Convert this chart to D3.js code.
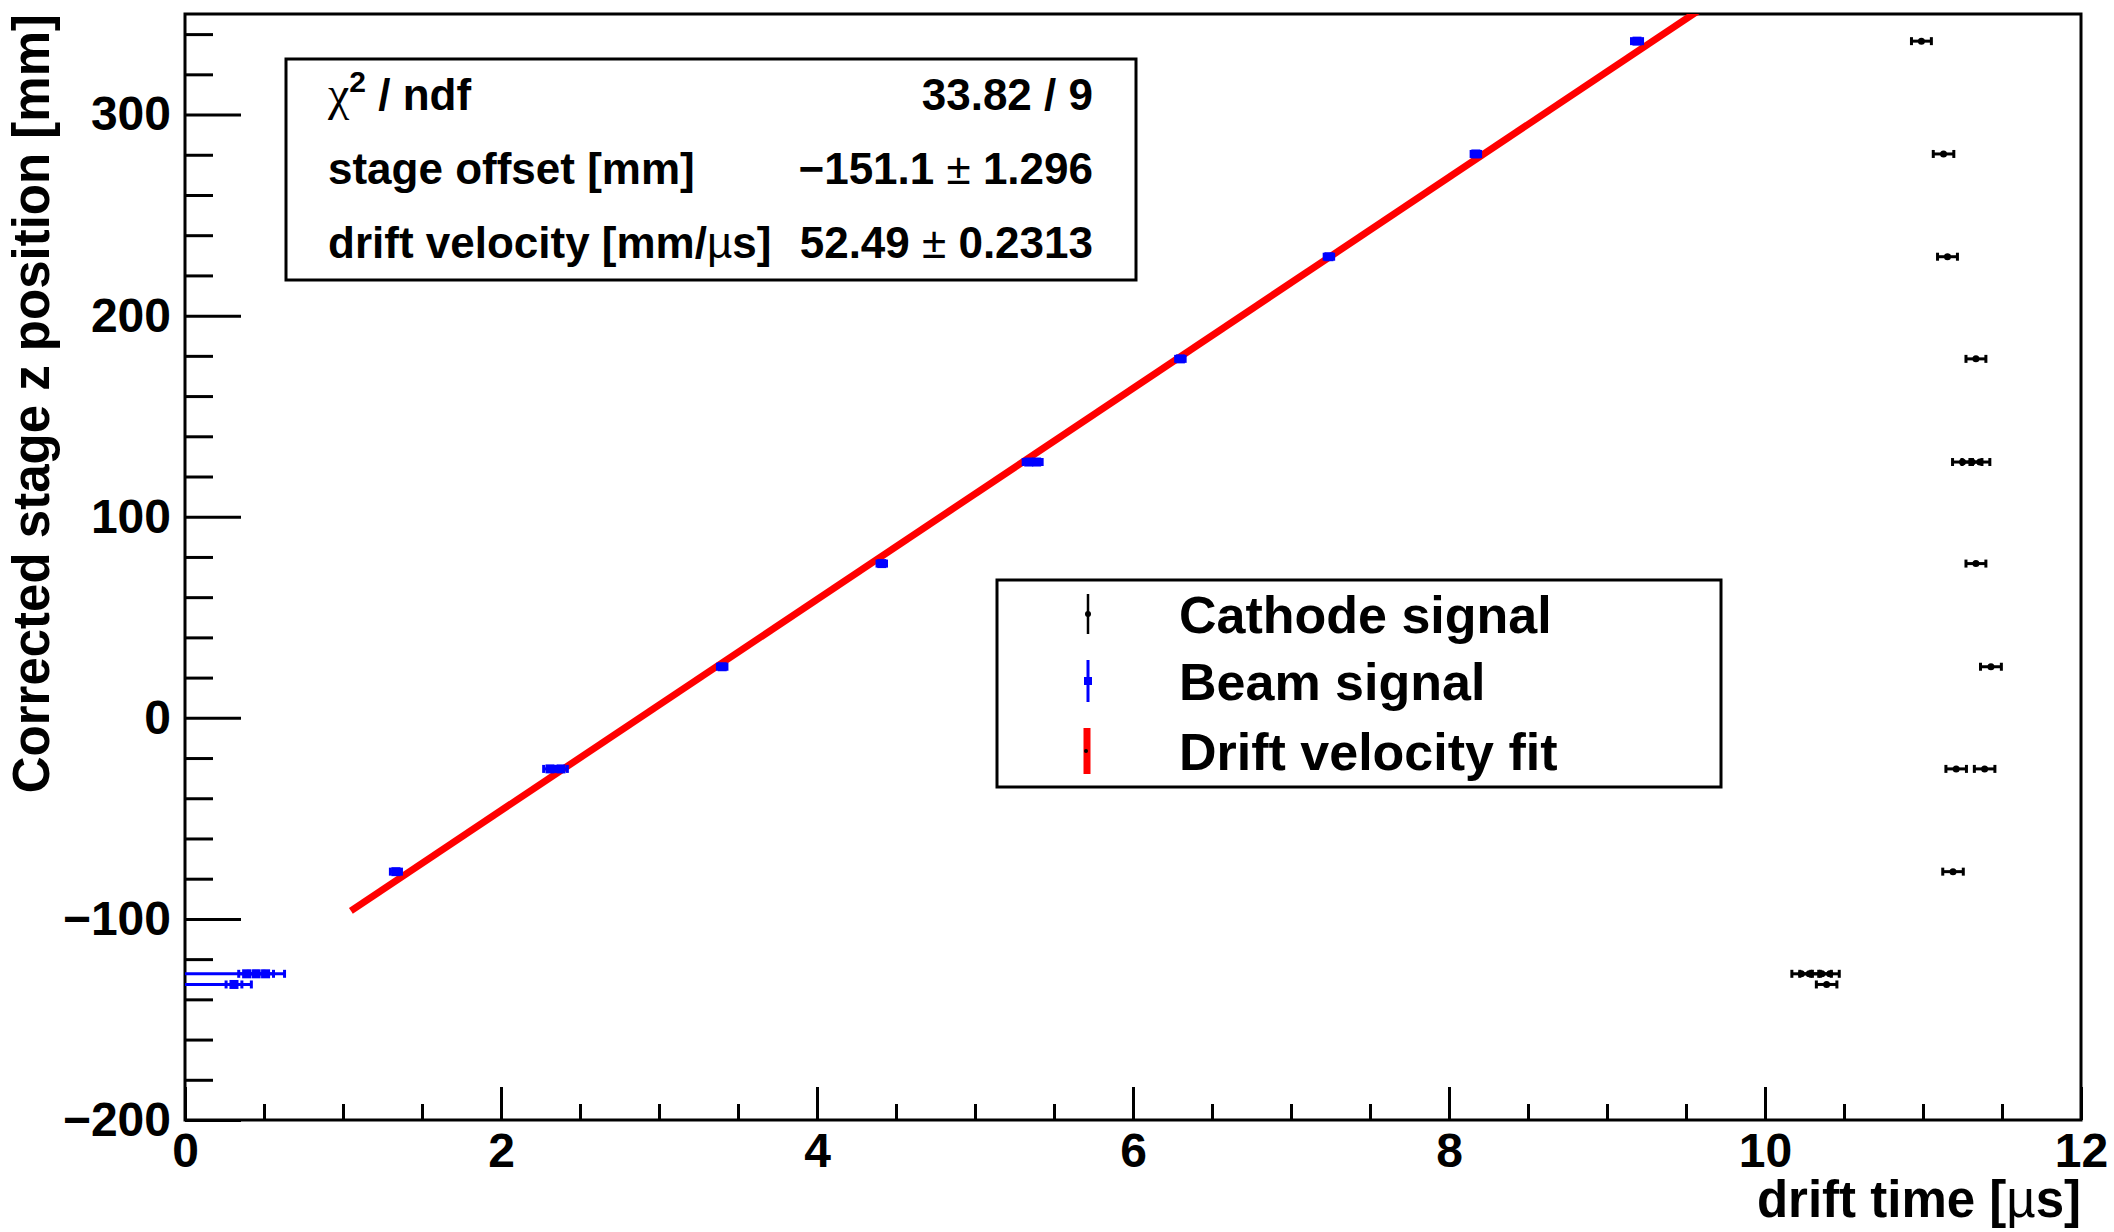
<!DOCTYPE html>
<html>
<head>
<meta charset="utf-8">
<script src="https://cdn.jsdelivr.net/npm/d3@7"></script>
<style>
    body { margin: 0; background: #fff; }
    svg text { font-family: "Liberation Sans", Arial, Helvetica, sans-serif; font-weight: bold; }
</style>
</head>
<body>
<div id="chart"></div>
<script>
// cathode signal: drift time [us], stage z [mm], time error [us]
const cathodeTime = [10.99, 11.13, 11.155, 11.335, 11.25, 11.31, 11.36, 11.335, 11.43, 11.21, 11.39, 11.19, 10.23, 10.28, 10.36, 10.41, 10.39]
const cathodeZ = [336.5, 280.4, 229.3, 178.5, 127.2, 127.2, 127.2, 76.7, 25.4, -25.4, -25.4, -76.5, -127.3, -127.3, -127.3, -127.3, -132.6]
const cathodeTimeErr = [0.063, 0.065, 0.063, 0.063, 0.063, 0.063, 0.063, 0.063, 0.066, 0.065, 0.065, 0.065, 0.06, 0.06, 0.06, 0.06, 0.065]

// beam signal
const beamTime = [1.335, 2.31, 2.38, 3.40, 4.41, 5.34, 5.39, 6.30, 7.24, 8.17, 9.19, -0.05, 0.39, 0.45, 0.51, -0.20, 0.31]
const beamZ = [-76.5, -25.4, -25.4, 25.4, 76.7, 127.2, 127.2, 178.5, 229.3, 280.4, 336.5, -127.3, -127.3, -127.3, -127.3, -132.6, -132.6]
const beamTimeErr = [0.035, 0.04, 0.04, 0.03, 0.03, 0.035, 0.035, 0.03, 0.03, 0.03, 0.035, 0.68, 0.05, 0.05, 0.05, 0.62, 0.05]

// linear fit z = offset + velocity * t
const fitOffset = -151.1
const fitVelocity = 52.49
const fitRange = [1.05, 10.0]

const xMajorTicks = [0, 2, 4, 6, 8, 10, 12]
const yMajorTicks = [-200, -100, 0, 100, 200, 300]

const statsRows = [
    { label: "chi", value: "33.82 / 9" },
    { label: "stage offset [mm]", value: "\u2212151.1 ", err: "1.296" },
    { label: "drift velocity [mm/", value: "52.49 ", err: "0.2313" }
]
const legendLabels = ["Cathode signal", "Beam signal", "Drift velocity fit"]

const totalWidth = 2114, totalHeight = 1232
const margin = { top: 14, right: 33, bottom: 112, left: 185 }
const width = totalWidth - margin.left - margin.right
const height = totalHeight - margin.top - margin.bottom

function initializeChart(chartContainerName) {
    let context = Object()
    let root = d3.select("#" + chartContainerName)
        .append("svg")
        .attr("width", totalWidth)
        .attr("height", totalHeight)
    root.append("defs").append("clipPath")
        .attr("id", "plotClip")
        .append("rect")
        .attr("width", width)
        .attr("height", height)
    context.root = root
    context.svg = root.append("g")
        .attr("transform", "translate(" + margin.left + "," + margin.top + ")")
    return context
}

function initializeAxis(context) {
    context.x = d3.scaleLinear().domain([0, 12]).range([0, width])
    context.y = d3.scaleLinear().domain([-200, 350]).range([height, 0])

    // minor ticks first, then major with labels
    let xMinor = d3.range(0, 12.01, 0.5).filter(v => v % 2 != 0)
    context.svg.append("g")
        .attr("transform", "translate(0," + height + ")")
        .call(d3.axisBottom(context.x).tickValues(xMinor).tickSize(-16).tickFormat(""))
    let xAxis = context.svg.append("g")
        .attr("transform", "translate(0," + height + ")")
        .call(d3.axisBottom(context.x).tickValues(xMajorTicks).tickSize(-33).tickPadding(13).tickFormat(d3.format("d")))
    xAxis.selectAll("text").attr("font-size", 48).attr("font-family", null)

    let yMinor = d3.range(-200, 351, 20).filter(v => v % 100 != 0)
    context.svg.append("g")
        .call(d3.axisLeft(context.y).tickValues(yMinor).tickSize(-28).tickFormat(""))
    let yAxis = context.svg.append("g")
        .call(d3.axisLeft(context.y).tickValues(yMajorTicks).tickSize(-56).tickPadding(14).tickFormat(d3.format("d")))
    yAxis.selectAll("text").attr("font-size", 48).attr("font-family", null)

    context.svg.selectAll(".domain").remove()
    context.svg.selectAll(".tick line").attr("stroke", "#000").attr("stroke-width", 3)

    // frame
    context.svg.append("rect")
        .attr("width", width)
        .attr("height", height)
        .attr("fill", "none")
        .attr("stroke", "#000")
        .attr("stroke-width", 3)

    // axis titles
    let xTitle = context.svg.append("text")
        .attr("x", width)
        .attr("y", height + 97)
        .attr("text-anchor", "end")
        .attr("font-size", 51)
    xTitle.append("tspan").text("drift time [")
    xTitle.append("tspan").attr("font-weight", "normal").text("\u00b5")
    xTitle.append("tspan").text("s]")

    context.root.append("text")
        .attr("transform", "translate(49," + margin.top + ") rotate(-90)")
        .attr("text-anchor", "end")
        .attr("font-size", 51)
        .text("Corrected stage z position [mm]")
}

function drawPoints(context, times, zs, errs, color, marker) {
    let data = times.map((t, i) => ({ t: t, z: zs[i], e: errs[i] }))
    let g = context.svg.append("g").attr("clip-path", "url(#plotClip)")
    let x = context.x, y = context.y

    g.selectAll(".bar").data(data).join("line")
        .attr("x1", d => x(d.t - d.e)).attr("x2", d => x(d.t + d.e))
        .attr("y1", d => y(d.z)).attr("y2", d => y(d.z))
        .attr("stroke", color).attr("stroke-width", 3)
    // end caps
    g.selectAll(".capl").data(data).join("line")
        .attr("x1", d => x(d.t - d.e)).attr("x2", d => x(d.t - d.e))
        .attr("y1", d => y(d.z) - 4).attr("y2", d => y(d.z) + 4)
        .attr("stroke", color).attr("stroke-width", 3)
    g.selectAll(".capr").data(data).join("line")
        .attr("x1", d => x(d.t + d.e)).attr("x2", d => x(d.t + d.e))
        .attr("y1", d => y(d.z) - 4).attr("y2", d => y(d.z) + 4)
        .attr("stroke", color).attr("stroke-width", 3)

    if (marker == "square") {
        g.selectAll(".mk").data(data).join("rect")
            .attr("x", d => x(d.t) - 4.5).attr("y", d => y(d.z) - 4.5)
            .attr("width", 9).attr("height", 9)
            .attr("fill", color)
    } else {
        g.selectAll(".mk").data(data).join("circle")
            .attr("cx", d => x(d.t)).attr("cy", d => y(d.z))
            .attr("r", 3.5)
            .attr("fill", color)
    }
}

function drawFit(context) {
    let line = d3.line()
        .x(d => context.x(d))
        .y(d => context.y(fitOffset + fitVelocity * d))
    context.svg.append("g").attr("clip-path", "url(#plotClip)")
        .append("path")
        .datum(fitRange)
        .attr("d", line)
        .attr("fill", "none")
        .attr("stroke", "#ff0000")
        .attr("stroke-width", 7)
}

function drawStats(context) {
    let g = context.root.append("g")
    g.append("rect")
        .attr("x", 286).attr("y", 59)
        .attr("width", 850).attr("height", 221)
        .attr("fill", "#fff").attr("stroke", "#000").attr("stroke-width", 3)

    statsRows.forEach((row, i) => {
        let yb = 110 + i * 74
        let left = g.append("text").attr("x", 328).attr("y", yb).attr("font-size", 44)
        if (row.label == "chi") {
            left.append("tspan").attr("font-family", "Liberation Serif").attr("font-weight", "normal").attr("font-size", 48).text("\u03c7")
            left.append("tspan").attr("font-size", 30).attr("dy", -18).text("2")
            left.append("tspan").attr("dy", 18).text(" / ndf")
        } else if (row.label.startsWith("drift")) {
            left.append("tspan").text(row.label)
            left.append("tspan").attr("font-weight", "normal").text("\u00b5")
            left.append("tspan").text("s]")
        } else {
            left.text(row.label)
        }
        let right = g.append("text").attr("x", 1093).attr("y", yb).attr("font-size", 44).attr("text-anchor", "end")
        right.append("tspan").text(row.value)
        if (row.err) {
            right.append("tspan").attr("font-weight", "normal").text("\u00b1 ")
            right.append("tspan").text(row.err)
        }
    })
}

function drawLegend(context) {
    let g = context.root.append("g")
    g.append("rect")
        .attr("x", 997).attr("y", 580)
        .attr("width", 724).attr("height", 207)
        .attr("fill", "#fff").attr("stroke", "#000").attr("stroke-width", 3)

    let rowY = [614, 681, 751]
    let mx = 1088
    // cathode
    g.append("line").attr("x1", mx).attr("x2", mx).attr("y1", rowY[0] - 20).attr("y2", rowY[0] + 20)
        .attr("stroke", "#000").attr("stroke-width", 2.5)
    g.append("circle").attr("cx", mx).attr("cy", rowY[0]).attr("r", 3).attr("fill", "#000")
    // beam
    g.append("line").attr("x1", mx).attr("x2", mx).attr("y1", rowY[1] - 21).attr("y2", rowY[1] + 21)
        .attr("stroke", "#0000ff").attr("stroke-width", 3)
    g.append("rect").attr("x", mx - 4).attr("y", rowY[1] - 4).attr("width", 8).attr("height", 8).attr("fill", "#0000ff")
    // fit
    g.append("line").attr("x1", mx - 1).attr("x2", mx - 1).attr("y1", rowY[2] - 23).attr("y2", rowY[2] + 23)
        .attr("stroke", "#ff0000").attr("stroke-width", 7)
    g.append("circle").attr("cx", mx - 2).attr("cy", rowY[2]).attr("r", 2).attr("fill", "#000")

    g.selectAll(".lab").data(legendLabels).join("text")
        .attr("x", 1179)
        .attr("y", (d, i) => rowY[i] + 19)
        .attr("font-size", 52)
        .text(d => d)
}

let context = initializeChart("chart")
initializeAxis(context)
drawFit(context)
drawPoints(context, beamTime, beamZ, beamTimeErr, "#0000ff", "square")
drawPoints(context, cathodeTime, cathodeZ, cathodeTimeErr, "#000", "circle")
drawStats(context)
drawLegend(context)
</script>
</body>
</html>
